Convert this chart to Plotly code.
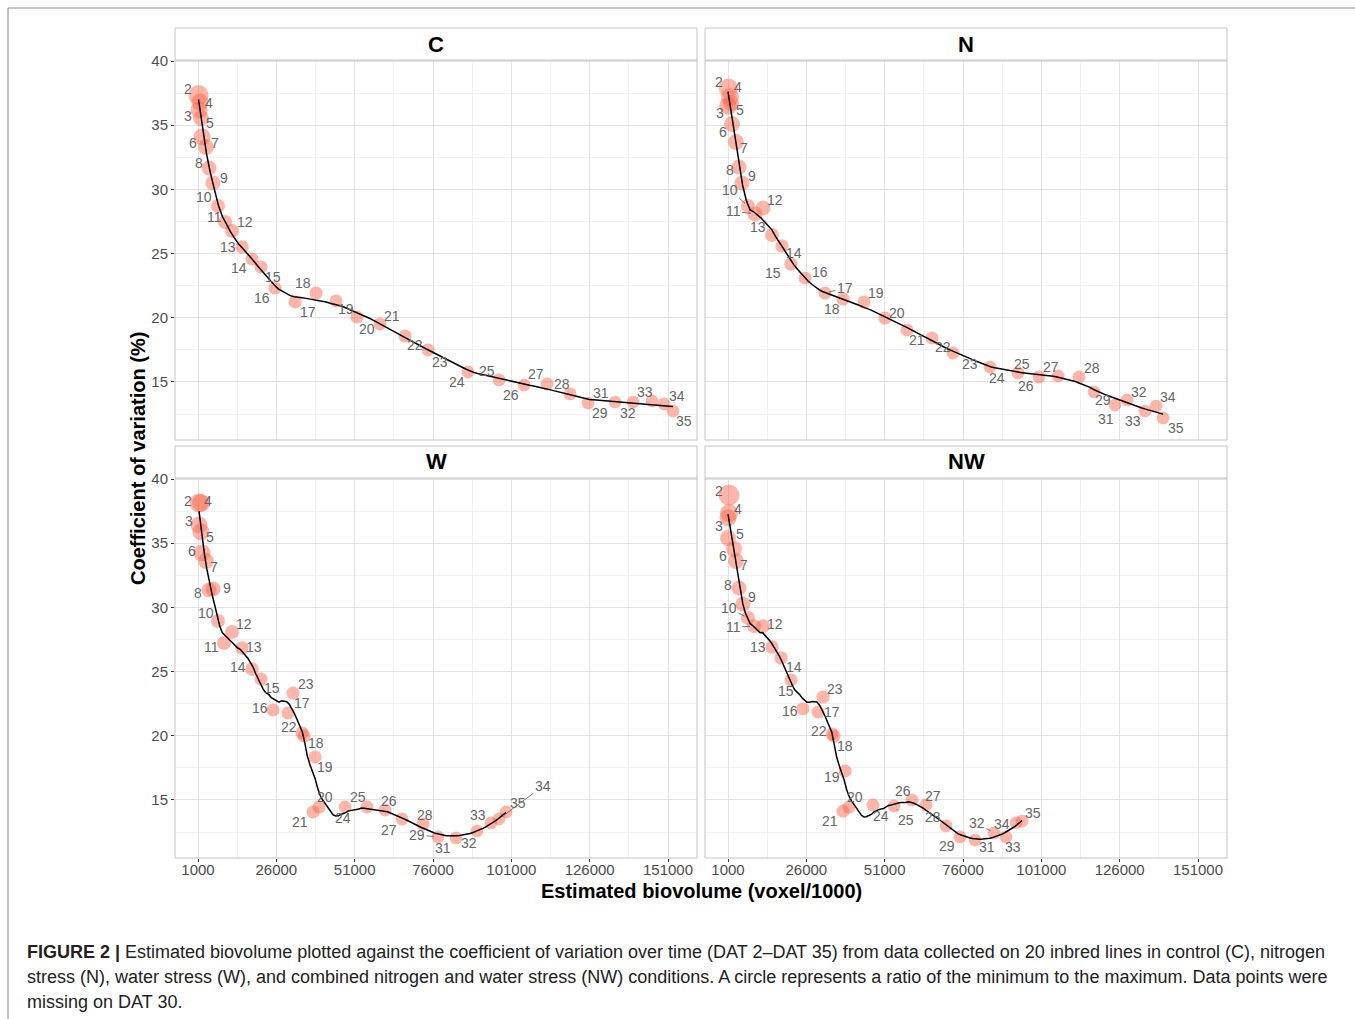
import numpy as np
import plotly.graph_objects as go

# ---------------- data ----------------
dat = [2, 3, 4, 5, 6, 7, 8, 9, 10, 11, 12, 13, 14, 15, 16, 17, 18, 19, 20, 21,
       22, 23, 24, 25, 26, 27, 28, 29, 31, 32, 33, 34, 35]

x_ticks = [1000, 26000, 51000, 76000, 101000, 126000, 151000]
y_ticks = [15, 20, 25, 30, 35, 40]

C_biovolume = [1160, 1320, 1640, 1960, 2280, 3550, 4510, 5790, 7380, 9620, 11850, 15040,
               18240, 21110, 25580, 31960, 38670, 45050, 51750, 59090, 67070, 74420, 87180,
               97080, 105060, 112400, 119740, 125490, 134100, 139850, 145910, 149750, 152620]
C_cv = [37.35, 36.18, 36.80, 35.56, 34.08, 33.30, 31.67, 30.50, 28.71, 27.46, 26.76, 25.51,
        24.58, 23.96, 22.32, 21.23, 21.93, 21.31, 20.06, 19.52, 18.58, 17.49, 15.78, 15.16,
        14.77, 14.84, 14.07, 13.36, 13.44, 13.44, 13.52, 13.29, 12.74]
C_ratio = [0.56, 0.39, 0.39, 0.33, 0.39, 0.33, 0.28, 0.28, 0.22, 0.22, 0.22, 0.19, 0.17,
           0.17, 0.17, 0.17, 0.17, 0.17, 0.17, 0.17, 0.17, 0.16, 0.16, 0.16, 0.16, 0.16,
           0.16, 0.15, 0.15, 0.15, 0.15, 0.15, 0.15]

N_biovolume = [1100, 1000, 1640, 1960, 2280, 3550, 4510, 5470, 7380, 9620, 12170, 15040,
               18240, 21110, 25580, 31960, 37710, 44410, 51110, 58140, 66120, 72820, 84630,
               93570, 100270, 106340, 113040, 117830, 124530, 128360, 134110, 137620, 139850]
N_cv = [37.90, 36.50, 37.20, 36.73, 35.09, 33.69, 31.74, 30.50, 28.71, 28.08, 28.55, 26.45,
        25.59, 24.19, 23.10, 21.93, 21.46, 21.23, 19.98, 19.05, 18.43, 17.26, 16.17, 15.70,
        15.39, 15.47, 15.39, 14.22, 13.21, 13.60, 12.74, 13.13, 12.20]
N_ratio = [0.50, 0.44, 0.44, 0.33, 0.33, 0.33, 0.28, 0.28, 0.22, 0.28, 0.28, 0.22, 0.19,
           0.19, 0.17, 0.17, 0.17, 0.17, 0.17, 0.17, 0.17, 0.16, 0.16, 0.16, 0.16, 0.16,
           0.16, 0.15, 0.15, 0.15, 0.15, 0.15, 0.15]

W_biovolume = [1320, 1320, 1960, 1960, 2280, 3550, 4510, 5790, 7380, 9300, 11850, 15040,
               18240, 21110, 24940, 29730, 34840, 38350, 39620, 37710, 34200, 31320, 47920,
               54940, 60690, 66110, 72820, 77610, 83350, 90060, 94530, 97080, 99320]
W_cv = [38.13, 36.42, 38.13, 35.87, 34.24, 33.61, 31.36, 31.43, 28.94, 27.23, 28.08, 26.84,
        25.20, 24.42, 22.01, 21.78, 19.98, 18.35, 14.45, 14.07, 20.22, 23.33, 14.45, 14.45,
        14.22, 13.52, 13.13, 12.12, 12.04, 12.59, 13.21, 13.52, 14.07]
W_ratio = [0.50, 0.39, 0.44, 0.39, 0.39, 0.33, 0.28, 0.28, 0.22, 0.22, 0.22, 0.19, 0.19,
           0.17, 0.17, 0.17, 0.17, 0.17, 0.17, 0.17, 0.17, 0.17, 0.16, 0.16, 0.16, 0.16,
           0.16, 0.15, 0.15, 0.15, 0.15, 0.15, 0.15]

NW_biovolume = [1320, 1000, 1320, 1000, 2920, 3550, 4510, 5790, 7380, 9300, 12170, 15040,
                17920, 21110, 24940, 29730, 34840, 38350, 39620, 37710, 34200, 31320, 47280,
                53990, 59730, 64200, 70580, 75060, 79840, 85900, 89740, 92930, 94850]
NW_cv = [38.75, 36.96, 37.35, 35.40, 34.55, 33.61, 31.51, 30.26, 29.17, 28.54, 28.54, 26.91,
         26.06, 24.35, 22.09, 21.85, 19.98, 17.26, 14.45, 14.14, 20.14, 23.02, 14.61, 14.53,
         15.00, 14.61, 12.98, 12.12, 11.88, 12.43, 12.12, 13.21, 13.36]
NW_ratio = [0.61, 0.39, 0.44, 0.33, 0.33, 0.33, 0.28, 0.28, 0.22, 0.22, 0.22, 0.19, 0.19,
            0.17, 0.17, 0.17, 0.17, 0.17, 0.17, 0.17, 0.17, 0.17, 0.16, 0.16, 0.16, 0.16,
            0.16, 0.15, 0.15, 0.15, 0.15, 0.15, 0.15]

# ---------------- label placement (screen px offsets, style only) ----------------
C_off = {2: (-11, -6), 3: (-11, 6), 4: (9, 1), 5: (9, 5), 6: (-9, 6), 7: (9, -4), 8: (-10, -5),
         9: (11, -5), 10: (-14, -9), 11: (-11, -5), 12: (13, -9), 13: (-14, 0), 14: (-13, 9),
         15: (12, 10), 16: (-13, 10), 17: (13, 10), 18: (-13, -10), 19: (10, 8), 20: (10, 12),
         21: (12, -8), 22: (10, 9), 23: (12, 12), 24: (-11, 10), 25: (-12, -9), 26: (-13, 10),
         27: (-11, -10), 28: (-8, -10), 29: (12, 10), 31: (-14, -9), 32: (-5, 11), 33: (-7, -9),
         34: (13, -8), 35: (11, 10)}
N_off = {2: (-9, -6), 4: (8, -10), 3: (-8, 7), 5: (9, 7), 6: (-9, 8), 7: (8, 6), 8: (-9, 3),
         9: (10, -7), 10: (-18, -16, 'L'), 11: (-22, -3, 'L'), 12: (12, -8), 13: (-14, -8),
         14: (12, 7), 15: (-18, 9), 16: (15, -6), 17: (20, -5, 'L'), 18: (-11, 10), 19: (12, -9),
         20: (12, -5), 21: (10, 10), 22: (11, 9), 23: (17, 11), 24: (7, 11), 25: (4, -9),
         26: (-13, 9), 27: (-7, -9), 28: (13, -9), 29: (9, 8), 31: (-9, 14), 32: (12, -8),
         33: (-12, 10), 34: (12, -9), 35: (13, 10)}
W_off = {2: (-11, -2), 4: (7, -2), 3: (-10, -4), 5: (9, 5), 6: (-10, -2), 7: (8, 6), 8: (-11, 3),
         9: (14, -1), 10: (-12, -8), 11: (-13, 4), 12: (12, -8), 13: (12, -1), 14: (-14, -2),
         15: (11, 9), 16: (-13, -2), 17: (14, -10), 18: (12, 7), 19: (10, 10), 20: (6, -10),
         21: (-13, 10), 22: (-13, -6), 23: (13, -9), 24: (-2, 11), 25: (-9, -10), 26: (4, -9),
         27: (-13, 11), 28: (2, -9), 29: (-21, -2, 'L'), 31: (-13, 10), 32: (-8, 12),
         33: (-13, -8), 34: (44, -33, 'L'), 35: (12, -9)}
NW_off = {2: (-10, -4), 4: (9, -4), 3: (-9, 8), 5: (12, -4), 6: (-11, 7), 7: (8, 4), 8: (-11, -3),
          9: (9, -7), 10: (-19, -10, 'L'), 11: (-21, 1, 'L'), 12: (12, -2), 13: (-14, 0),
          14: (13, 9), 15: (-5, 11), 16: (-13, 2), 17: (14, 0), 18: (11, 10), 19: (-13, 6),
          20: (6, -10), 21: (-13, 10), 22: (-13, -3), 23: (12, -8), 24: (8, 11),
          25: (12, 14, 'L'), 26: (-9, -9), 27: (7, -9), 28: (-13, -9), 29: (-13, 9), 31: (12, 7),
          32: (-17, -10, 'L'), 33: (7, 10), 34: (-14, 1), 35: (11, -8)}


def loess(x, y, span, xs):
    x = np.asarray(x, float) / 1e5
    y = np.asarray(y, float)
    xs = np.asarray(xs, float) / 1e5
    n = len(x)
    q = int(np.floor(n * span))
    out = []
    for x0 in xs:
        d = np.abs(x - x0)
        h = np.sort(d)[q - 1] * 1.0001
        u = d / h
        w = np.where(u < 1, (1 - u ** 3) ** 3, 0.0)
        X = np.vstack([np.ones(n), x - x0, (x - x0) ** 2]).T
        sw = np.sqrt(w)
        beta = np.linalg.lstsq(X * sw[:, None], y * sw, rcond=None)[0]
        out.append(beta[0])
    return np.array(out)


FW, FH = 1355, 1019
def px_x(p): return p / FW
def px_y(p): return 1 - p / FH

panels = [
    ("C", C_biovolume, C_cv, C_ratio, C_off, (175, 697), (60, 440), (28, 60)),
    ("N", N_biovolume, N_cv, N_ratio, N_off, (705, 1227), (60, 440), (28, 60)),
    ("W", W_biovolume, W_cv, W_ratio, W_off, (175, 697), (478, 858), (446, 478)),
    ("NW", NW_biovolume, NW_cv, NW_ratio, NW_off, (705, 1227), (478, 858), (446, 478)),
]

XR = [-6342, 160257]
YR = [10.48, 40.08]
x_minor = [(a + b) / 2 for a, b in zip(x_ticks[:-1], x_ticks[1:])]
y_minor = [12.5] + [(a + b) / 2 for a, b in zip(y_ticks[:-1], y_ticks[1:])]

PT_COLOR = "rgba(255,99,71,0.68)"
LBL_COLOR = "#666666"
FONT = "Liberation Sans, Arial, sans-serif"

fig = go.Figure()
layout = dict(width=FW, height=FH, autosize=False,
              margin=dict(l=0, r=0, t=0, b=0, pad=0, autoexpand=False),
              paper_bgcolor="white", plot_bgcolor="white", showlegend=False,
              font=dict(family=FONT))
annotations = []
shapes = []

for i, (name, xv, yv, rv, off, (x0, x1), (y0, y1), (s0, s1)) in enumerate(panels):
    k = "" if i == 0 else str(i + 1)
    xa, ya = "x" + k, "y" + k
    bottom = name in ("W", "NW")
    left = name in ("C", "W")
    layout["xaxis" + k] = dict(
        domain=[px_x(x0), px_x(x1)], range=XR, anchor=ya, automargin=False,
        tickvals=x_ticks, ticktext=[str(t) for t in x_ticks],
        showticklabels=bottom, ticks="outside" if bottom else "", ticklen=3,
        ticklabelstandoff=-5,
        tickcolor="#333333", tickfont=dict(size=15, color="#4d4d4d"),
        showgrid=True, gridcolor="#e3e3e3", gridwidth=1, zeroline=False, showline=False,
        minor=dict(tickvals=x_minor, showgrid=True, gridcolor="#f1f1f1", gridwidth=0.6),
    )
    layout["yaxis" + k] = dict(
        domain=[px_y(y1), px_y(y0)], range=YR, anchor=xa, automargin=False,
        tickvals=y_ticks, ticktext=[str(t) for t in y_ticks],
        showticklabels=left, ticks="outside" if left else "", ticklen=3,
        tickcolor="#333333", tickfont=dict(size=15, color="#4d4d4d"),
        showgrid=True, gridcolor="#e3e3e3", gridwidth=1, zeroline=False, showline=False,
        minor=dict(tickvals=y_minor, showgrid=True, gridcolor="#f1f1f1", gridwidth=0.6),
    )
    sizes = [10 + 18 * r for r in rv]
    fig.add_trace(go.Scatter(x=xv, y=yv, mode="markers", xaxis=xa, yaxis=ya,
                             marker=dict(size=sizes, color=PT_COLOR, line=dict(width=0)),
                             hoverinfo="skip"))
    xs = np.linspace(min(xv), max(xv), 120)
    ys = loess(xv, yv, 0.33, xs)
    fig.add_trace(go.Scatter(x=xs, y=ys, mode="lines", xaxis=xa, yaxis=ya,
                             line=dict(color="black", width=1.5), hoverinfo="skip"))
    for d, xx, yy in zip(dat, xv, yv):
        o = off[d]
        if len(o) == 3:
            annotations.append(dict(x=xx, y=yy, xref=xa, yref=ya, text=str(d), showarrow=True,
                                    ax=o[0], ay=o[1], arrowhead=0, arrowwidth=0.8,
                                    arrowcolor="#555555", standoff=4,
                                    font=dict(size=14, color=LBL_COLOR)))
        else:
            annotations.append(dict(x=xx, y=yy, xref=xa, yref=ya, text=str(d), showarrow=False,
                                    xshift=o[0], yshift=-o[1], xanchor="center",
                                    yanchor="middle", font=dict(size=14, color=LBL_COLOR)))
    # panel border
    shapes.append(dict(type="rect", xref="paper", yref="paper",
                       x0=px_x(x0), x1=px_x(x1), y0=px_y(y1), y1=px_y(y0),
                       line=dict(color="#c4c4c4", width=1), fillcolor="rgba(0,0,0,0)",
                       layer="above"))
    # strip
    shapes.append(dict(type="rect", xref="paper", yref="paper",
                       x0=px_x(x0), x1=px_x(x1), y0=px_y(s1), y1=px_y(s0),
                       line=dict(color="#c4c4c4", width=1), fillcolor="white", layer="above"))
    annotations.append(dict(x=px_x((x0 + x1) / 2), y=px_y((s0 + s1) / 2), xref="paper",
                            yref="paper", text="<b>%s</b>" % name, showarrow=False,
                            font=dict(size=22, color="black"), xanchor="center",
                            yanchor="middle"))

# axis titles
annotations.append(dict(x=px_x(701), y=px_y(891), xref="paper", yref="paper",
                        text="<b>Estimated biovolume (voxel/1000)</b>", showarrow=False,
                        font=dict(size=20, color="black"), xanchor="center", yanchor="middle"))
annotations.append(dict(x=px_x(138), y=px_y(459), xref="paper", yref="paper",
                        text="<b>Coefficient of variation (%)</b>", showarrow=False,
                        textangle=-90, font=dict(size=20, color="black"),
                        xanchor="center", yanchor="middle"))

# caption
caption = [
    "<b>FIGURE 2 |</b> Estimated biovolume plotted against the coefficient of variation over time (DAT 2\u2013DAT 35) from data collected on 20 inbred lines in control (C), nitrogen",
    "stress (N), water stress (W), and combined nitrogen and water stress (NW) conditions. A circle represents a ratio of the minimum to the maximum. Data points were",
    "missing on DAT 30.",
]
for j, line in enumerate(caption):
    annotations.append(dict(x=px_x(25), y=px_y(952 + 25 * j), xref="paper", yref="paper",
                            text=line, showarrow=False, xanchor="left", yanchor="middle",
                            font=dict(size=18, color="#222222")))

# frame lines
shapes.append(dict(type="line", xref="paper", yref="paper", x0=px_x(8), x1=1,
                   y0=px_y(8), y1=px_y(8), line=dict(color="#8a8a8a", width=1)))
shapes.append(dict(type="line", xref="paper", yref="paper", x0=px_x(8), x1=px_x(8),
                   y0=px_y(8), y1=0, line=dict(color="#8a8a8a", width=1)))

layout["annotations"] = annotations
layout["shapes"] = shapes
fig.update_layout(**layout)
fig.write_html(
    "out.html",
    config={"displayModeBar": False},
    post_script="document.body.style.margin='0';document.body.style.padding='0';"
                "document.body.style.overflow='hidden';"
                "document.documentElement.style.overflow='hidden';",
)
